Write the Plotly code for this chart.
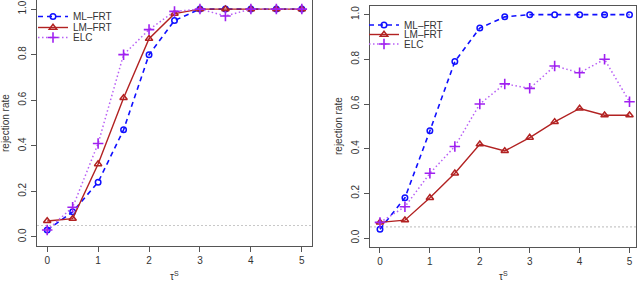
import plotly.graph_objects as go

tau = [0, 0.5, 1, 1.5, 2, 2.5, 3, 3.5, 4, 4.5, 5]

left_ml = [0.03, 0.11, 0.24, 0.47, 0.80, 0.95, 1.00, 1.00, 1.00, 1.00, 1.00]
left_lm = [0.07, 0.08, 0.32, 0.61, 0.87, 0.98, 1.00, 1.00, 1.00, 1.00, 1.00]
left_elc = [0.03, 0.13, 0.41, 0.80, 0.91, 0.99, 1.00, 0.97, 1.00, 1.00, 1.00]

right_ml = [0.04, 0.18, 0.48, 0.79, 0.94, 0.99, 1.00, 1.00, 1.00, 1.00, 1.00]
right_lm = [0.07, 0.08, 0.18, 0.29, 0.42, 0.39, 0.45, 0.52, 0.58, 0.55, 0.55]
right_elc = [0.07, 0.14, 0.29, 0.41, 0.60, 0.69, 0.67, 0.77, 0.74, 0.80, 0.61]

series_names = ["ML\u2013FRT", "LM\u2013FRT", "ELC"]
x_ticks = [0, 1, 2, 3, 4, 5]
y_ticks = [0.0, 0.2, 0.4, 0.6, 0.8, 1.0]
y_tick_labels = ["0.0", "0.2", "0.4", "0.6", "0.8", "1.0"]
nominal_level = 0.05

W, H = 640, 282
FONT = "Liberation Sans, Arial, Helvetica, sans-serif"
BLUE = "#1010FF"
BROWN = "#B22222"
PURPLE = "#A020F0"
PURPLE_LINE = "#B860F5"
AXC = "#555555"
TXT = "#333333"

styles = [
    dict(line=dict(color=BLUE, width=1.6, dash="5px,4px"),
         marker=dict(symbol="circle-open", size=5.5, color=BLUE, line=dict(width=1.5, color=BLUE))),
    dict(line=dict(color=BROWN, width=1.4),
         marker=dict(symbol="triangle-up-open", size=6.5, color=BROWN, line=dict(width=1.5, color=BROWN))),
    dict(line=dict(color=PURPLE_LINE, width=1.5, dash="1.5px,2.5px"),
         marker=dict(symbol="cross-thin-open", size=7.5, color=PURPLE, line=dict(width=1.6, color=PURPLE))),
]

fig = go.Figure()

panels = [
    ("x", "y", [left_ml, left_lm, left_elc], ["legend", "legend2", "legend3"]),
    ("x2", "y2", [right_ml, right_lm, right_elc], ["legend4", "legend5", "legend6"]),
]
for xa, ya, series, legs in panels:
    for name, vals, st, lg in zip(series_names, series, styles, legs):
        fig.add_trace(go.Scatter(x=tau, y=vals, name=name, mode="lines+markers",
                                 xaxis=xa, yaxis=ya, legend=lg, **st))

axis_common = dict(
    showline=True, mirror=True, linecolor=AXC, linewidth=1,
    ticks="outside", ticklen=5, tickcolor=AXC, tickwidth=1,
    showgrid=False, zeroline=False, automargin=False,
    tickfont=dict(family=FONT, size=10, color=TXT),
)


def px_x(p):
    return p / W


def px_y(p):
    return min(1.0, max(0.0, (H - p) / H))


legend_common = dict(xanchor="left", yanchor="top", bgcolor="rgba(0,0,0,0)",
                     font=dict(family=FONT, size=10, color=TXT),
                     itemwidth=30, tracegroupgap=0, borderwidth=0)

# legend top positions (pixels) for each entry
left_leg_top = [2, 13, 23]
right_leg_top = [10.5, 20, 29.5]

legend_layout = {}
for i, top in enumerate(left_leg_top):
    key = "legend" if i == 0 else f"legend{i + 1}"
    legend_layout[key] = dict(x=px_x(33), y=px_y(top), **legend_common)
for i, top in enumerate(right_leg_top):
    legend_layout[f"legend{i + 4}"] = dict(x=px_x(364), y=px_y(top), **legend_common)

fig.update_layout(
    width=W, height=H,
    margin=dict(l=0, r=0, t=0, b=0, autoexpand=False),
    paper_bgcolor="white", plot_bgcolor="white",
    font=dict(family=FONT, size=10, color=TXT),
    xaxis=dict(domain=[px_x(37), px_x(312)], range=[-0.2, 5.2], anchor="y",
               tickvals=x_ticks, ticklabelstandoff=0, **axis_common),
    yaxis=dict(domain=[px_y(246), px_y(0)], range=[-0.04, 1.04], anchor="x",
               tickvals=y_ticks, ticktext=y_tick_labels, tickangle=-90,
               ticklabelstandoff=1, **axis_common),
    xaxis2=dict(domain=[px_x(370), px_x(636)], range=[-0.2, 5.13], anchor="y2",
                tickvals=x_ticks, ticklabelstandoff=0, **axis_common),
    yaxis2=dict(domain=[px_y(247), px_y(5.7)], range=[-0.04, 1.04], anchor="x2",
                tickvals=y_ticks, ticktext=y_tick_labels, tickangle=-90,
                ticklabelstandoff=1, **axis_common),
    showlegend=True,
    **legend_layout,
)

for xa, ya in (("x", "y"), ("x2", "y2")):
    fig.add_shape(type="line", xref=f"{xa} domain", yref=ya, x0=0, x1=1,
                  y0=nominal_level, y1=nominal_level,
                  line=dict(color="#C8C8C8", width=1.2, dash="2px,2px"), layer="below")

annots = [
    dict(text="rejection rate", x=px_x(5), y=px_y(123), textangle=-90,
         xanchor="center", yanchor="middle", yshift=0),
    dict(text="rejection rate", x=px_x(338), y=px_y(126), textangle=-90,
         xanchor="center", yanchor="middle", yshift=0),
    dict(text="\u03c4<sup>S</sup>", x=px_x(174.5), y=px_y(282), textangle=0,
         xanchor="center", yanchor="bottom", yshift=-2),
    dict(text="\u03c4<sup>S</sup>", x=px_x(503), y=px_y(282), textangle=0,
         xanchor="center", yanchor="bottom", yshift=-2),
]
for a in annots:
    fig.add_annotation(xref="paper", yref="paper", showarrow=False,
                       font=dict(family=FONT, size=10, color=TXT), **a)

fig.write_html(
    "out.html",
    config={"displayModeBar": False},
    post_script="document.body.style.margin='0';document.body.style.padding='0';"
                "document.body.style.overflow='hidden';",
)
